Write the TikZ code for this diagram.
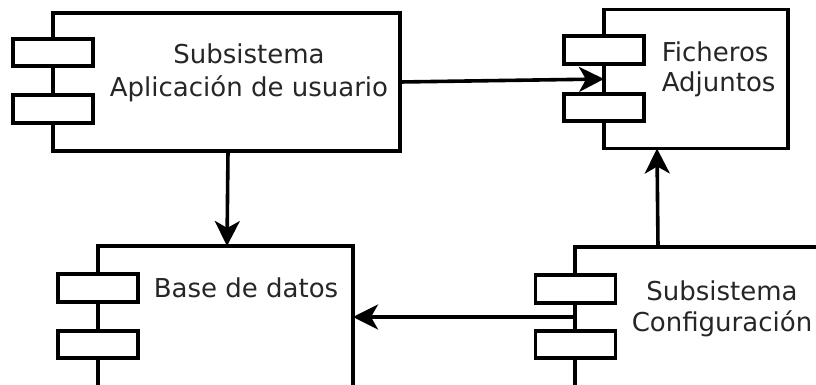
\documentclass[tikz,border=0pt]{standalone}
\usepackage{fontspec}
\setmainfont{DejaVu Sans}
\usetikzlibrary{arrows.meta}
\begin{document}
\begin{tikzpicture}[x=1pt,y=-1pt, line width=3.6pt,
  body/.style={draw, fill=white, rectangle, inner sep=0pt, outer sep=0pt},
  tab/.style={draw, fill=white, rectangle, inner sep=0pt, outer sep=0pt, minimum width=80pt, minimum height=27.5pt},
  lbl/.style={font=\fontsize{26}{31}\selectfont, text=black!85, inner sep=0pt, anchor=base},
  arr/.style={-{Stealth[length=25pt,width=25pt,inset=7pt]}, line width=3.6pt}]
\useasboundingbox (0,0) rectangle (816,385);
\clip (0,0) rectangle (816,385);
\fill[white] (0,0) rectangle (816,385);
% Subsistema Aplicacion de usuario
\node[body, minimum width=347pt, minimum height=138pt] (app) at (226.5,82) {};
\node[tab] (appt1) at (53,52.5) {};
\node[tab] (appt2) at (53,109) {};
% Ficheros Adjuntos
\node[body, minimum width=184pt, minimum height=139pt] (fich) at (696,79) {};
\node[tab] (ficht1) at (604,50) {};
\node[tab] (ficht2) at (604,107.5) {};
% Base de datos
\node[body, minimum width=255pt, minimum height=174pt] (bd) at (225.5,333) {};
\node[tab] (bdt1) at (98,288) {};
\node[tab] (bdt2) at (98,344.5) {};
% Subsistema Configuracion
\node[body, minimum width=285pt, minimum height=173pt] (cfg) at (717.5,333.5) {};
\node[tab] (cfgt1) at (575.5,289) {};
\node[tab] (cfgt2) at (575.5,344.5) {};
% labels
\node[lbl, align=center, font=\fontsize{26}{33.4}\selectfont] (tapp) at (249,96.7) {Subsistema\\Aplicación de usuario};
\node[lbl, align=left, anchor=base west, font=\fontsize{26}{30}\selectfont] (tfich) at (660,91.7) {Ficheros\\Adjuntos};
\node[lbl] (tbd) at (246,297.7) {Base de datos};
\node[lbl, align=center] (tcfg) at (722,331.7) {Subsistema\\Configuración};
% connectors
\draw[arr] (app.east) -- (fich.west);
\draw[arr] ([xshift=1.5pt]app.south) -- ([xshift=1.5pt]bd.north);
\draw[arr] ([xshift=83pt]cfg.north west) -- ([xshift=53pt]fich.south west);
\draw[arr] ([yshift=-70pt]cfg.north west) -- ([yshift=-71pt]bd.north east);
\end{tikzpicture}
\end{document}
